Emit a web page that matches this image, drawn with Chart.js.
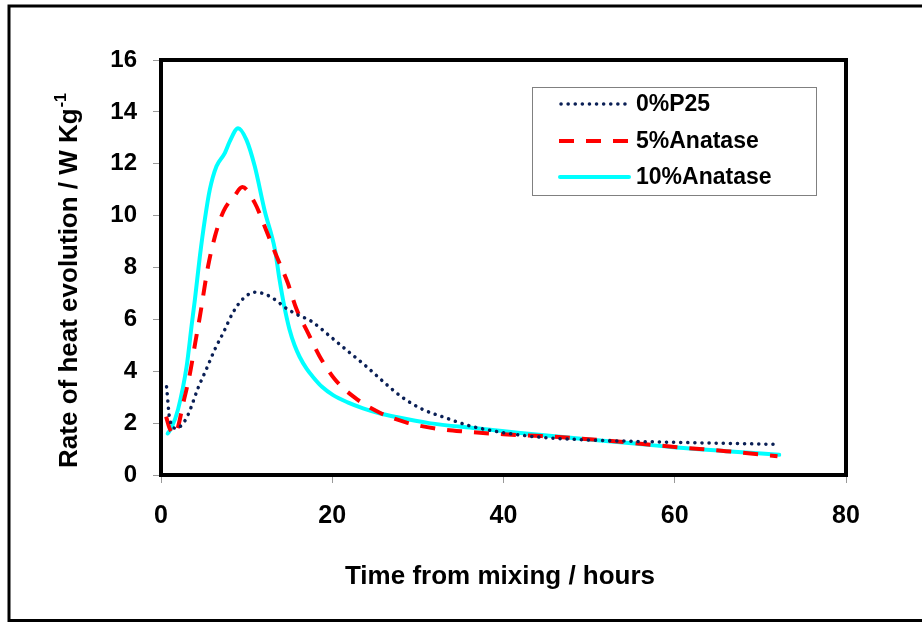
<!DOCTYPE html>
<html>
<head>
<meta charset="utf-8">
<script src="https://cdn.jsdelivr.net/npm/chart.js@4/dist/chart.umd.min.js"></script>
<style>
  html, body { margin: 0; padding: 0; background: #ffffff; }
  #wrap { width: 922px; height: 622px; position: relative; }
</style>
</head>
<body>
<div id="wrap"><canvas id="chart" width="922" height="622"></canvas></div>
<script>
// Heat evolution rate curves (W/kg) against time since mixing (hours)
const seriesLabels = ['0%P25', '5%Anatase', '10%Anatase'];

const timeP25 = [0.65, 1.05, 1.8, 2.6, 3.2, 4.35, 5.3, 6.3, 7.3, 8.4, 9.6, 11.0, 12.3, 13.7, 14.3, 15.8, 17.5, 19.7, 21.8, 24.0, 26.1, 28.2, 30.5, 33.1, 36.0, 38.0, 40, 44.5, 50, 55, 60, 66, 72];
const rateP25 = [3.4, 2.1, 1.8, 2.0, 2.35, 3.37, 4.08, 4.85, 5.5, 6.26, 6.8, 7.05, 6.95, 6.67, 6.5, 6.2, 5.94, 5.36, 4.78, 4.18, 3.56, 2.99, 2.54, 2.22, 1.9, 1.75, 1.63, 1.45, 1.35, 1.3, 1.26, 1.22, 1.18];

const timeA5 = [0.6, 1.0, 1.6, 2.7, 3.4, 4.0, 4.55, 5.5, 6.3, 7.3, 8.6, 9.5, 10.95, 12.1, 13.5, 14.8, 15.8, 17.15, 18.5, 20.3, 22.6, 25.5, 28.6, 32.1, 35.6, 40, 44.5, 50, 55, 60, 66, 72];
const rateA5 = [2.25, 1.8, 1.58, 2.92, 3.95, 5.1, 6.13, 8.05, 9.2, 10.17, 10.77, 11.1, 10.49, 9.59, 8.43, 7.41, 6.42, 5.49, 4.59, 3.69, 2.99, 2.41, 2.03, 1.79, 1.67, 1.57, 1.5, 1.38, 1.24, 1.08, 0.92, 0.72];

const timeA10 = [0.78, 1.24, 2.0, 3.0, 3.57, 3.96, 4.54, 5.12, 5.7, 6.48, 7.45, 8.03, 9.0, 9.98, 10.95, 12.1, 13.3, 13.86, 14.4, 15.0, 15.6, 16.2, 17.0, 17.7, 18.8, 20.1, 21.8, 23.6, 25.5, 27.4, 31.3, 36.8, 42, 49.7, 55, 60.2, 66, 72.2];
const rateA10 = [1.6, 1.83, 2.54, 4.2, 5.74, 6.77, 8.43, 9.85, 11.0, 11.9, 12.41, 12.86, 13.37, 12.92, 11.9, 10.2, 8.7, 7.5, 6.5, 5.62, 5.0, 4.55, 4.1, 3.8, 3.4, 3.08, 2.8, 2.57, 2.38, 2.24, 2.0, 1.8, 1.62, 1.38, 1.22, 1.06, 0.92, 0.78];

const xTicks = [0, 20, 40, 60, 80];
const yTicks = [0, 2, 4, 6, 8, 10, 12, 14, 16];

const xTitle = 'Time from mixing / hours';
const yTitle = 'Rate of heat evolution / W Kg';
const yTitleSup = '-1';

const FONT = '"Liberation Sans", Arial, Helvetica, sans-serif';

function pairs(xs, ys) {
  return xs.map((x, i) => ({ x: x, y: ys[i] }));
}

// Page frame, plot frame, axis titles and legend box
const decorations = {
  id: 'decorations',
  beforeDatasetsDraw(chart) {
    const ctx = chart.ctx;
    const a = chart.chartArea;
    ctx.save();
    ctx.strokeStyle = '#000000';
    ctx.lineWidth = 4;
    ctx.strokeRect(a.left, a.top, a.right - a.left, a.bottom - a.top);
    ctx.restore();
  },
  afterDraw(chart) {
    const ctx = chart.ctx;
    ctx.save();

    // outer frame
    ctx.strokeStyle = '#000000';
    ctx.lineWidth = 3;
    ctx.beginPath();
    ctx.moveTo(930, 6);
    ctx.lineTo(9, 6);
    ctx.lineTo(9, 620.5);
    ctx.lineTo(930, 620.5);
    ctx.stroke();

    // x-axis title
    ctx.fillStyle = '#000000';
    ctx.font = 'bold 26px ' + FONT;
    ctx.textAlign = 'center';
    ctx.textBaseline = 'alphabetic';
    ctx.fillText(xTitle, 500, 584);

    // y-axis title with superscript
    ctx.save();
    ctx.translate(77, 281);
    ctx.rotate(-Math.PI / 2);
    ctx.font = 'bold 26px ' + FONT;
    const wMain = ctx.measureText(yTitle).width;
    ctx.font = 'bold 16px ' + FONT;
    const wSup = ctx.measureText(yTitleSup).width;
    const start = -(wMain + wSup) / 2;
    ctx.textAlign = 'left';
    ctx.textBaseline = 'alphabetic';
    ctx.font = 'bold 26px ' + FONT;
    ctx.fillText(yTitle, start, 0);
    ctx.font = 'bold 16px ' + FONT;
    ctx.fillText(yTitleSup, start + wMain + 1, -11);
    ctx.restore();

    // legend
    const box = { x: 532.5, y: 87.5, w: 284, h: 108 };
    ctx.fillStyle = '#ffffff';
    ctx.fillRect(box.x, box.y, box.w, box.h);
    ctx.strokeStyle = '#808080';
    ctx.lineWidth = 1;
    ctx.strokeRect(box.x, box.y, box.w, box.h);
    const rows = [104, 141, 177];
    chart.data.datasets.forEach((ds, i) => {
      const y = rows[i];
      ctx.save();
      ctx.strokeStyle = ds.borderColor;
      ctx.lineWidth = ds.borderWidth;
      ctx.lineCap = ds.borderCapStyle || 'butt';
      ctx.setLineDash(ds.borderDash || []);
      ctx.beginPath();
      ctx.moveTo(ds.legendStart || 560, y);
      ctx.lineTo(629, y);
      ctx.stroke();
      ctx.restore();
      ctx.fillStyle = '#000000';
      ctx.font = 'bold 23px ' + FONT;
      ctx.textAlign = 'left';
      ctx.textBaseline = 'middle';
      ctx.fillText(ds.label, 636, y + 1);
    });
    ctx.restore();
  }
};

new Chart(document.getElementById('chart'), {
  type: 'line',
  data: {
    datasets: [
      {
        label: seriesLabels[0],
        data: pairs(timeP25, rateP25),
        borderColor: '#0a1f55',
        borderWidth: 3.5,
        borderDash: [0.1, 7],
        borderCapStyle: 'round',
        legendStart: 561,
        pointRadius: 0,
        fill: false,
        cubicInterpolationMode: 'monotone'
      },
      {
        label: seriesLabels[1],
        data: pairs(timeA5, rateA5),
        borderColor: '#ff0000',
        borderWidth: 4,
        borderDash: [15, 12],
        borderCapStyle: 'butt',
        legendStart: 559,
        pointRadius: 0,
        fill: false,
        cubicInterpolationMode: 'monotone'
      },
      {
        label: seriesLabels[2],
        data: pairs(timeA10, rateA10),
        borderColor: '#00ffff',
        borderWidth: 4,
        borderCapStyle: 'round',
        legendStart: 560,
        pointRadius: 0,
        fill: false,
        cubicInterpolationMode: 'monotone'
      }
    ]
  },
  options: {
    responsive: false,
    animation: false,
    layout: { padding: { left: 0, top: 60, right: 76, bottom: 0 } },
    plugins: {
      legend: { display: false },
      tooltip: { enabled: false },
      title: { display: false }
    },
    scales: {
      x: {
        type: 'linear',
        min: 0,
        max: 80,
        afterBuildTicks(scale) { scale.ticks = xTicks.map(v => ({ value: v })); },
        afterFit(scale) { scale.height = 147; },
        border: { display: false },
        grid: { display: true, drawOnChartArea: false, drawTicks: true, tickLength: 8, tickColor: '#999999', tickWidth: 1 },
        ticks: { color: '#000000', padding: 18, maxRotation: 0, font: { family: FONT, size: 25, weight: 'bold' } }
      },
      y: {
        type: 'linear',
        min: 0,
        max: 16,
        afterBuildTicks(scale) { scale.ticks = yTicks.map(v => ({ value: v })); },
        afterFit(scale) { scale.width = 161; },
        border: { display: false },
        grid: { display: true, drawOnChartArea: false, drawTicks: true, tickLength: 8, tickColor: '#999999', tickWidth: 1 },
        ticks: { color: '#000000', padding: 16, font: { family: FONT, size: 24, weight: 'bold' } }
      }
    }
  },
  plugins: [decorations]
});
</script>
</body>
</html>
